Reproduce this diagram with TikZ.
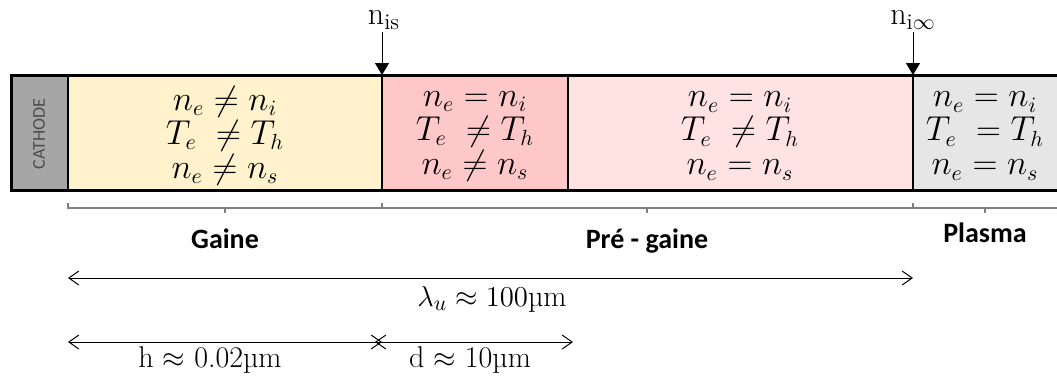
\documentclass[tikz,border=0pt]{standalone}
\usepackage{amsmath}
\usepackage{fontspec}
\usepackage{tikz}
\usetikzlibrary{arrows.meta,positioning}
\newfontfamily\carlito{Carlito}
\definecolor{cathgray}{HTML}{A6A6A6}
\definecolor{gainecol}{HTML}{FFF2CD}
\definecolor{sheathred}{HTML}{FFC8C8}
\definecolor{presheath}{HTML}{FFE2E2}
\definecolor{plasmagray}{HTML}{E6E6E6}
\definecolor{bracketgray}{HTML}{808080}

\begin{document}
\begin{tikzpicture}[x=0.5pt,y=-0.5pt,
  zone/.style={font=\fontsize{16}{17}\selectfont, align=center, inner sep=0pt},
  region/.style={font=\carlito\bfseries\fontsize{14}{17}\selectfont},
  density/.style={font=\fontsize{16}{17}\selectfont, inner sep=1pt},
  dimlabel/.style={font=\fontsize{15}{17}\selectfont, inner sep=1pt},
  dim/.style={{Straight Barb[length=5pt,width=7pt]}-{Straight Barb[length=5pt,width=7pt]}, line width=0.5pt},
  marker/.style={-{Triangle[length=6pt,width=7pt]}, line width=0.5pt},
  brace/.style={bracketgray, line width=0.8pt}]
\useasboundingbox (0,0) rectangle (1057,376);
% zones of the bar
\foreach \a/\b/\c in {11/68/cathgray,68/382/gainecol,382/568/sheathred,568/913/presheath,913/1057/plasmagray} {
  \fill[\c] (\a,75) rectangle (\b,190);
}
\draw[line width=1.5pt] (1057,75) -- (11,75) -- (11,190) -- (1057,190);
\foreach \x in {68,382,568,913} {
  \draw[line width=1pt] (\x,75) -- (\x,190);
}
\node[rotate=90, font=\carlito\fontsize{9}{10}\selectfont, text=black!70] (cathode) at (39,134) {CATHODE};
\node[zone] (gaine) at (225,136) {$n_e \neq n_i$\\$T_e\ \neq T_h$\\$n_e \neq n_s$};
\node[zone] (sheath) at (475,136) {$n_e = n_i$\\$T_e\ \neq T_h$\\$n_e \neq n_s$};
\node[zone] (pregaine) at (740,136) {$n_e = n_i$\\$T_e\ \neq T_h$\\$n_e = n_s$};
\node[zone] (plasma) at (985,136) {$n_e = n_i$\\$T_e\ = T_h$\\$n_e = n_s$};
% densities at the edges
\node[density] (nis) at (384,20) {n\textsubscript{is}};
\node[density] (ninf) at (913,20) {n\textsubscript{i$\infty$}};
\coordinate (nisTip) at (382,75);
\coordinate (ninfTip) at (913,75);
\draw[marker] (nisTip |- nis.south) -- (nisTip);
\draw[marker] (ninfTip |- ninf.south) -- (ninfTip);
% brackets
\foreach \a/\m/\b in {68/225/382,382/647/913,913/985/1057} {
  \draw[brace] (\a,203) -- (\a,208) -- (\b,208);
  \draw[brace] (\m,208) -- (\m,213);
}
\node[region] (gaineLbl) at (225,239) {Gaine};
\node[region] (preLbl) at (647,241) {Pré - gaine};
\node[region] (plasmaLbl) at (985,233) {Plasma};
% lengths
\coordinate (c0) at (68,278);
\coordinate (c1) at (913,278);
\coordinate (h0) at (68,342);
\coordinate (h1) at (382,342);
\coordinate (d0) at (375,342);
\coordinate (d1) at (573,342);
\draw[dim] (c0) -- (c1);
\draw[dim] (h0) -- (h1);
\draw[dim] (d0) -- (d1);
\node[dimlabel] (lambda) at (492,299) {$\lambda_u \approx 100$\textmu m};
\node[dimlabel] (hlen) at (210,360) {h $\approx$ 0.02\textmu m};
\node[dimlabel] (dlen) at (470,360) {d $\approx$ 10\textmu m};
\end{tikzpicture}
\end{document}
